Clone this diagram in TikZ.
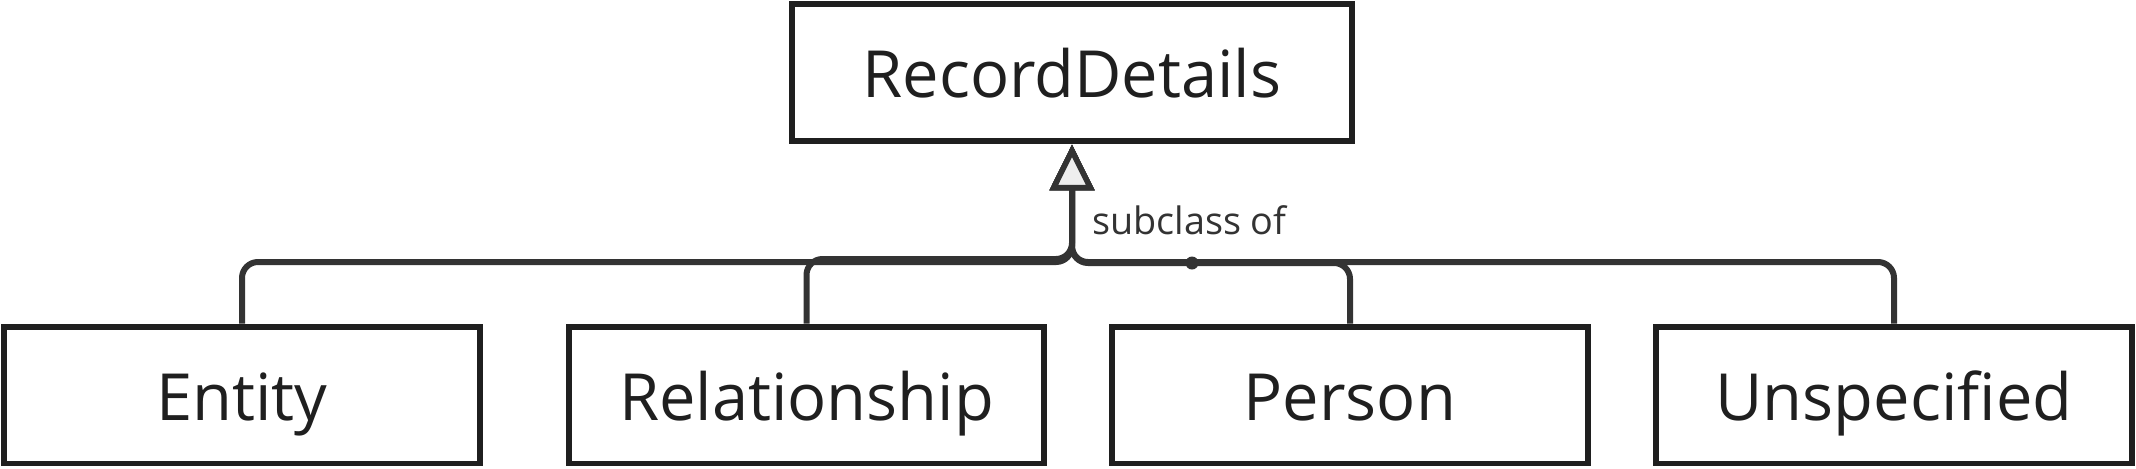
\documentclass[tikz,border=0pt]{standalone}
\usepackage{fontspec}
\setmainfont{Open Sans}
\usetikzlibrary{arrows.meta}
\definecolor{clsline}{HTML}{333333}
\definecolor{clsborder}{HTML}{1F1F1F}
\definecolor{clsfill}{HTML}{EEEEEE}

\begin{document}
\begin{tikzpicture}[
    x=0.02cm, y=-0.02cm,
    classbox/.style={draw=clsborder, line width=0.12cm, fill=white,
      minimum width=9.52cm, minimum height=2.74cm, inner sep=0pt,
      text height=1.1cm, text depth=0.1cm,
      font=\fontsize{37}{44}\selectfont, text=clsborder},
    link/.style={draw=clsline, line width=0.12cm, rounded corners=0.32cm,
      -{Triangle[open, fill=clsfill, length=0.92cm, width=0.88cm, line width=0.11cm]}},
  ]
  \useasboundingbox (0,0) rectangle (2136,468);

  % Parent class
  \node[classbox, minimum width=11.2cm, minimum height=2.76cm] (details) at (1072,72.5) {RecordDetails};

  % Subclasses
  \foreach \name/\x/\txt in {ent/242/Entity, rel/806.5/Relationship, per/1350/Person, uns/1894/Unspecified} {
    \node[classbox] (\name) at (\x,395) {\txt};
  }

  % Inheritance edges
  \foreach \name/\y in {ent/262, rel/259, per/263, uns/262} {
    \draw[link] (\name.north) |- (1072,\y) -- (details.south);
  }
  \node[font=\fontsize{21.5}{26}\selectfont, text=clsline, anchor=west] (sublabel) at (1086,220) {subclass of};
  \node[circle, fill=clsline, inner sep=0pt, minimum size=0.26cm] (middot) at (1192,263) {};
\end{tikzpicture}
\end{document}
